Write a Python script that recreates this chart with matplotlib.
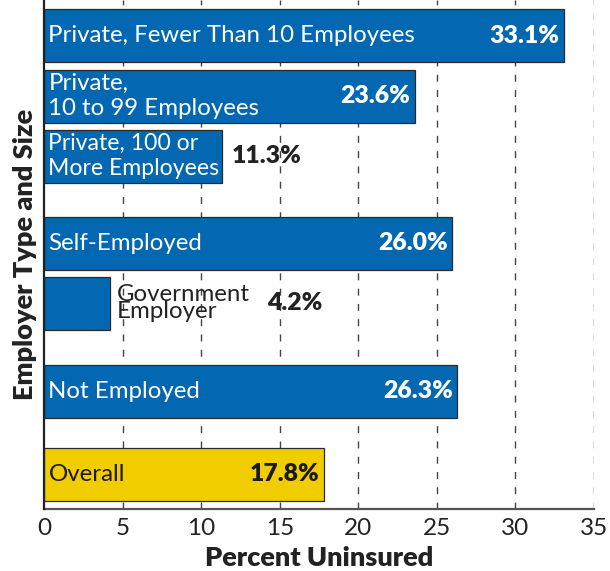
import matplotlib
matplotlib.use("Agg")
import matplotlib.pyplot as plt

plt.rcParams['font.family'] = ['Lato', 'DejaVu Sans']
plt.rcParams['lines.scale_dashes'] = False

categories = [
    "Private, Fewer Than 10 Employees",
    "Private,\n10 to 99 Employees",
    "Private, 100 or\nMore Employees",
    "Self-Employed",
    "Government\nEmployer",
    "Not Employed",
    "Overall",
]
values = [33.1, 23.6, 11.3, 26.0, 4.2, 26.3, 17.8]
value_labels = ["33.1%", "23.6%", "11.3%", "26.0%", "4.2%", "26.3%", "17.8%"]
xticks = [0, 5, 10, 15, 20, 25, 30, 35]

# layout (group gaps)
positions = [0, 1.005, 2.005, 3.46, 4.455, 5.922, 7.308]
BLUE = "#0467B1"
YELLOW = "#F1CD00"
colors = [BLUE] * 6 + [YELLOW]

fig = plt.figure(figsize=(6.10, 5.71), dpi=100)
ax = fig.add_axes([0.0726, 0.108, 0.9007, 0.892])

ax.barh(positions, values, height=0.883, color=colors, edgecolor="#2a2a2a",
        linewidth=0.9, zorder=3)

ax.set_xlim(0, 35)
ax.set_ylim(7.893, -0.595)
ax.set_xticks(xticks)
ax.set_xticklabels([str(t) for t in xticks], fontsize=17.5, color="#222222")
ax.set_yticks([])
ax.tick_params(axis='x', length=0, pad=6)

for x in xticks[1:]:
    ax.axvline(x, color="#444444", lw=1.0, linestyle=(0, (5, 6)), zorder=1)

for s in ["top", "right"]:
    ax.spines[s].set_visible(False)
ax.spines["left"].set_color("#222222")
ax.spines["left"].set_linewidth(1.6)
ax.spines["bottom"].set_color("#555555")
ax.spines["bottom"].set_linewidth(1.6)
ax.spines["left"].set_zorder(4)

FS = 17.3
VFS = 17.8
for i, (cat, v, lab, pos) in enumerate(zip(categories, values, value_labels, positions)):
    if i == 4:
        ax.annotate(cat, xy=(v, pos), xytext=(5, 0), textcoords="offset points",
                    ha="left", va="center", fontsize=FS, color="#222222",
                    linespacing=0.75, zorder=5)
        ax.annotate(lab, xy=(v, pos), xytext=(113, 0), textcoords="offset points",
                    ha="left", va="center", fontsize=VFS, fontweight="heavy",
                    color="#222222", zorder=5)
        continue
    txtcol = "#1a1a1a" if i == 6 else "white"
    ax.annotate(cat, xy=(0, pos), xytext=(3, 0), textcoords="offset points",
                ha="left", va="center", fontsize=(16.6 if i == 2 else FS),
                color=txtcol, linespacing=1.2, zorder=5)
    if i == 2:
        ax.annotate(lab, xy=(v, pos), xytext=(7, 0), textcoords="offset points",
                    ha="left", va="center", fontsize=VFS, fontweight="heavy",
                    color="#222222", zorder=5)
    else:
        ax.annotate(lab, xy=(v, pos), xytext=(-3, 0), textcoords="offset points",
                    ha="right", va="center", fontsize=VFS, fontweight="heavy",
                    color=txtcol, zorder=5)

ax.set_xlabel("Percent Uninsured", fontsize=19.5, fontweight="heavy",
              color="#222222", labelpad=5)
ax.set_ylabel("Employer Type and Size", fontsize=19.5, fontweight="heavy",
              color="#222222", labelpad=5)

fig.savefig("out.png", dpi=100)
